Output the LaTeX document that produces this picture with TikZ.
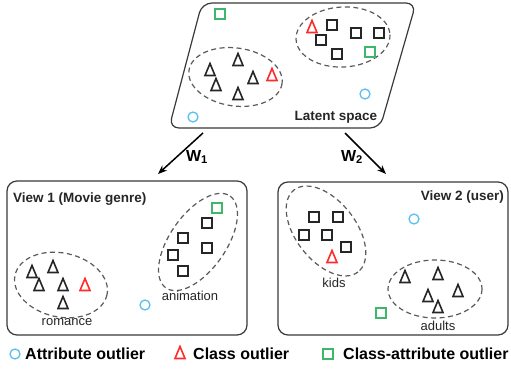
\documentclass[tikz,border=0pt]{standalone}
\usepackage{fontspec}
\setmainfont{Liberation Sans}
\usetikzlibrary{arrows.meta}
\definecolor{ink}{HTML}{262626}
\definecolor{frame}{HTML}{3A3A3A}
\definecolor{grp}{HTML}{5A5A5A}
\definecolor{outred}{HTML}{FF2A2A}
\definecolor{outgreen}{HTML}{3DB86A}
\definecolor{outblue}{HTML}{5BC0EE}
\tikzset{
  panel/.style={draw=frame, line width=1.2pt, rounded corners=10pt},
  cluster/.style={draw=grp, line width=1.2pt, dash pattern=on 5pt off 3.5pt},
  mapping/.style={draw=black, line width=1.5pt, -{Stealth[length=9pt,width=7pt]}},
  head/.style={font=\bfseries\fontsize{13.5}{15}\selectfont, text=ink, inner sep=0pt},
  lbl/.style={font=\fontsize{13}{15}\selectfont, text=ink, inner sep=0pt},
  legend/.style={font=\bfseries\fontsize{16}{18}\selectfont, text=black, inner sep=0pt, anchor=west},
  wlbl/.style={font=\bfseries\fontsize{16}{18}\selectfont, text=black, inner sep=0pt},
  tri/.pic={\draw[line width=1.6pt, line join=miter] (-5,5.5) -- (0,-6.5) -- (5,5.5) -- cycle;},
  sq/.pic={\draw[line width=1.4pt] (-5,-5) rectangle (5,5);},
  ring/.pic={\draw[line width=1.3pt] (0,0) circle (5);}
}
\begin{document}
\begin{tikzpicture}[x=1pt, y=-1pt]
\useasboundingbox[fill=white] (0,0) rectangle (511,371);

% ---------- latent space ----------
\draw[panel] (202,3) -- (416,3) -- (380,128) -- (169,128) -- cycle;
\node[head] (latent) at (336,117) {Latent space};
\draw[cluster, rotate around={-8:(235.5,77)}] (235.5,77) ellipse [x radius=47, y radius=29];
\draw[cluster, rotate around={3:(343,37)}] (343,37) ellipse [x radius=47, y radius=30];
\foreach \p in {(210,70),(238,60),(216,85),(253,78),(238,94)} \pic[ink] at \p {tri};
\pic[outred] at (272,75) {tri};
\pic[outred] at (312,27) {tri};
\foreach \p in {(332,25),(321,40),(356,33),(379,33),(337,54)} \pic[ink] at \p {sq};
\pic[outgreen] at (370,52) {sq};
\pic[outgreen] at (220,14) {sq};
\pic[outblue] at (365,94) {ring};
\pic[outblue] at (193,117) {ring};

% ---------- projections ----------
\coordinate (m1s) at (203,133);
\coordinate (m1e) at (158,174);
\coordinate (m2s) at (345,133);
\coordinate (m2e) at (386,174);
\draw[mapping] (m1s) -- (m1e);
\draw[mapping] (m2s) -- (m2e);
\node[wlbl] (w1) at (197,157) {W\textsubscript{1}};
\node[wlbl] (w2) at (352,157) {W\textsubscript{2}};

% ---------- view 1 ----------
\draw[panel] (7,181) rectangle (247,335);
\node[head, anchor=west] (v1) at (13,199) {View 1 (Movie genre)};
\draw[cluster, rotate around={-12:(61,285)}] (61,285) ellipse [x radius=47, y radius=32];
\draw[cluster, rotate around={55:(198,242)}] (198,242) ellipse [x radius=56, y radius=28];
\foreach \p in {(32,272),(53,267),(39,285),(63,285),(63,303)} \pic[ink] at \p {tri};
\pic[outred] at (85,285) {tri};
\foreach \p in {(207,223),(183,238),(207,248),(173,255),(183,271)} \pic[ink] at \p {sq};
\pic[outgreen] at (217,208) {sq};
\pic[outblue] at (145,305) {ring};
\node[lbl] (romance) at (67,322) {romance};
\node[lbl] (animation) at (190,296) {animation};

% ---------- view 2 ----------
\draw[panel] (278,182) rectangle (508,335);
\node[head, anchor=east] (v2) at (504,197) {View 2 (user)};
\draw[cluster, rotate around={-52:(326,231)}] (326,231) ellipse [x radius=52, y radius=30];
\draw[cluster] (435,289) ellipse [x radius=47, y radius=29];
\foreach \p in {(314,217),(338,217),(304,235),(327,235),(346,247)} \pic[ink] at \p {sq};
\pic[outred] at (332,257) {tri};
\pic[outblue] at (414,219) {ring};
\foreach \p in {(405,277),(438,274),(458,291),(428,296),(438,307)} \pic[ink] at \p {tri};
\pic[outgreen] at (381,313) {sq};
\node[lbl] (kids) at (334,283) {kids};
\node[lbl] (adults) at (438,326) {adults};

% ---------- legend ----------
\pic[outblue] at (15,354) {ring};
\node[legend] (la) at (25,354) {Attribute outlier};
\pic[outred] at (180,353) {tri};
\node[legend] (lc) at (193,354) {Class outlier};
\pic[outgreen] at (328,354) {sq};
\node[legend] (lca) at (343,354) {Class-attribute outlier};
\end{tikzpicture}
\end{document}
